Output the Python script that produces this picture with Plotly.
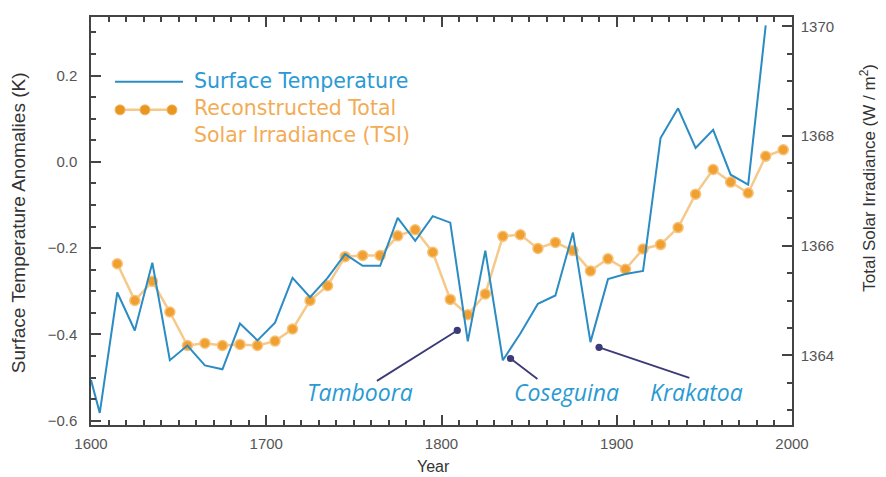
"""Surface temperature vs reconstructed TSI, 1600-2000"""

import plotly.graph_objects as go

# surface temperature anomalies (K), decadal
temp_years = [1600, 1605, 1615, 1625, 1635, 1645, 1655, 1665, 1675, 1685,
              1695, 1705, 1715, 1725, 1735, 1745, 1755, 1765, 1775, 1785,
              1795, 1805, 1815, 1825, 1835, 1845, 1855, 1865, 1875, 1885,
              1895, 1905, 1915, 1925, 1935, 1945, 1955, 1965, 1975, 1985]
temp_anom = [-0.506, -0.582, -0.303, -0.391, -0.234, -0.460, -0.426, -0.472, -0.481, -0.375,
             -0.414, -0.373, -0.269, -0.314, -0.269, -0.214, -0.241, -0.241, -0.130, -0.183,
             -0.126, -0.141, -0.416, -0.206, -0.460, -0.398, -0.329, -0.310, -0.164, -0.418,
             -0.272, -0.260, -0.253, 0.055, 0.124, 0.032, 0.074, -0.030, -0.053, 0.316]

# reconstructed total solar irradiance (W/m^2)
tsi_years = [1615, 1625, 1635, 1645, 1655, 1665, 1675, 1685, 1695, 1705,
             1715, 1725, 1735, 1745, 1755, 1765, 1775, 1785, 1795, 1805,
             1815, 1825, 1835, 1845, 1855, 1865, 1875, 1885, 1895, 1905,
             1915, 1925, 1935, 1945, 1955, 1965, 1975, 1985, 1995]
tsi_values = [1365.67, 1365.00, 1365.35, 1364.79, 1364.18, 1364.22, 1364.18, 1364.20, 1364.18, 1364.26,
              1364.48, 1365.00, 1365.27, 1365.80, 1365.82, 1365.82, 1366.18, 1366.29, 1365.88, 1365.02,
              1364.74, 1365.12, 1366.17, 1366.20, 1365.95, 1366.06, 1365.91, 1365.54, 1365.76, 1365.57,
              1365.94, 1366.02, 1366.33, 1366.94, 1367.39, 1367.16, 1366.96, 1367.63, 1367.75]

# volcanic eruptions: label, label position, line start, line end (year, anomaly)
volcano_names = ["Tamboora", "Coseguina", "Krakatoa"]
volcano_label_x = [1753.7, 1871.4, 1945.7]
volcano_label_y = [-0.534, -0.534, -0.534]
volcano_tail = [(1762.3, -0.510), (1855.6, -0.506), (1942.3, -0.502)]
volcano_tip = [(1809.0, -0.391), (1839.4, -0.456), (1889.9, -0.430)]

BLUE = "#2b8cc4"
ORANGE = "#f0a030"
ORANGE_LINE = "#f6c98a"
TEXT_BLUE = "#2a9ad2"
TEXT_ORANGE = "#f3ac55"
NAVY = "#3b3b78"
AXIS = "#444444"

fig = go.Figure()

fig.add_trace(go.Scatter(
    x=tsi_years, y=tsi_values, yaxis="y", mode="lines+markers",
    line=dict(color=ORANGE_LINE, width=2.5),
    marker=dict(color=ORANGE, size=10, line=dict(color="#f7c27a", width=1.5)),
    name="Reconstructed Total Solar Irradiance (TSI)",
))
fig.add_trace(go.Scatter(
    x=temp_years, y=temp_anom, yaxis="y2", mode="lines",
    line=dict(color=BLUE, width=2),
    name="Surface Temperature",
))

tick_font = dict(family="Liberation Sans, Arial", size=15, color="#555555")
axis_common = dict(
    showline=True, linecolor=AXIS, linewidth=1.5, showgrid=False, zeroline=False,
    ticks="inside", ticklen=10, tickwidth=1.5, tickcolor=AXIS, tickfont=tick_font,
)

# the page body adds an 8px margin, so the figure starts 8px in from the window corner
fig.update_layout(
    width=878, height=469,
    margin=dict(l=83, r=94, t=7, b=52),
    plot_bgcolor="white", paper_bgcolor="white",
    showlegend=False,
    xaxis=dict(
        range=[1600, 2000], tick0=1600, dtick=100, mirror="ticks",
        minor=dict(dtick=10, ticks="inside", ticklen=5, tickcolor=AXIS),
        ticklabelstandoff=4, **axis_common,
    ),
    yaxis=dict(
        side="right", range=[1362.73, 1370.17], tick0=1364, dtick=2, tickformat="d",
        minor=dict(dtick=0.5, ticks="inside", ticklen=5, tickcolor=AXIS),
        ticklabelstandoff=4, **axis_common,
    ),
    yaxis2=dict(
        side="left", overlaying="y", range=[-0.6101, 0.3356], tick0=0, dtick=0.2,
        tickformat=".1f",
        minor=dict(dtick=0.05, ticks="inside", ticklen=5, tickcolor=AXIS),
        ticklabelstandoff=9, **axis_common,
    ),
)

# axis titles
title_font = dict(family="Liberation Sans, Arial", size=19, color="#333333")
fig.add_annotation(text="Surface Temperature Anomalies (K)", xref="paper", yref="paper",
                   x=-0.104, y=0.495, xanchor="center", yanchor="middle",
                   textangle=-90, showarrow=False, font=title_font)
fig.add_annotation(text="Total Solar Irradiance (W / m<sup>2</sup>)", xref="paper", yref="paper",
                   x=1.109, y=0.607, xanchor="center", yanchor="middle",
                   textangle=-90, showarrow=False,
                   font=dict(family="Liberation Sans, Arial", size=17, color="#333333"))
fig.add_annotation(text="Year", xref="paper", yref="paper", x=0.488, y=-0.102,
                   xanchor="center", yanchor="middle", showarrow=False,
                   font=dict(family="Liberation Sans, Arial", size=16, color="#333333"))

# hand-drawn legend
fig.add_shape(type="line", xref="paper", yref="paper", x0=0.0342, x1=0.1312, y0=0.8415, y1=0.8415,
              line=dict(color=BLUE, width=2))
fig.add_shape(type="line", xref="paper", yref="paper", x0=0.0414, x1=0.1155, y0=0.7724, y1=0.7724,
              line=dict(color=ORANGE_LINE, width=2.5))
for cx in [0.0414, 0.0770, 0.1155]:
    fig.add_shape(type="circle", xref="paper", yref="paper",
                  x0=cx - 0.0071, x1=cx + 0.0071, y0=0.7724 - 0.0122, y1=0.7724 + 0.0122,
                  fillcolor="#e8961e", line=dict(color="#f2b060", width=1))
legend_font = dict(family="DejaVu Sans", size=20.5)
fig.add_annotation(text="Surface Temperature", xref="paper", yref="paper", x=0.144, y=0.8439,
                   xanchor="left", yanchor="middle", showarrow=False,
                   font=dict(color=TEXT_BLUE, **legend_font))
fig.add_annotation(text="Reconstructed Total<br>Solar Irradiance (TSI)", xref="paper", yref="paper",
                   x=0.144, y=0.745, xanchor="left", yanchor="middle", align="left", showarrow=False,
                   font=dict(color=TEXT_ORANGE, **legend_font))

# volcano labels and pointers
for name, lx, ly, tail, tip in zip(volcano_names, volcano_label_x, volcano_label_y,
                                   volcano_tail, volcano_tip):
    fig.add_annotation(text=f"<i>{name}</i>", x=lx, y=ly, xref="x", yref="y2", showarrow=False,
                       xanchor="center", yanchor="middle",
                       font=dict(family="Open Sans", size=23, color=TEXT_BLUE))
    fig.add_annotation(text="", x=tip[0], y=tip[1], xref="x", yref="y2",
                       ax=tail[0], ay=tail[1], axref="x", ayref="y2",
                       showarrow=True, arrowhead=6, arrowsize=1, arrowwidth=1.8,
                       arrowcolor=NAVY, standoff=0)

fig.write_html("out.html")
